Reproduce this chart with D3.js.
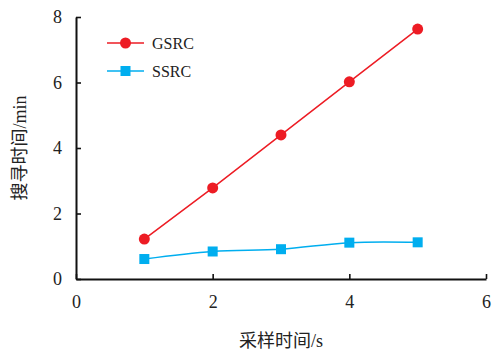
<!DOCTYPE html>
<html>
<head>
<meta charset="utf-8">
<script src="https://cdn.jsdelivr.net/npm/d3@7"></script>
<style>
  html, body { margin: 0; padding: 0; background: #fff; }
  svg { display: block; }
  text { font-family: "Liberation Serif", "Times New Roman", "Noto Sans CJK SC", serif; fill: #222; }
</style>
</head>
<body>
<svg id="chart" width="497" height="351"></svg>
<script>
// Sampling time (s) and search time (min) for the two methods
const sampleTimes = [1, 2, 3, 4, 5];
const gsrcValues = [1.22, 2.78, 4.40, 6.02, 7.63];
const ssrcValues = [0.61, 0.84, 0.91, 1.11, 1.12];
const xTicks = [0, 2, 4, 6];
const yTicks = [0, 2, 4, 6, 8];
const seriesNames = ["GSRC", "SSRC"];
const seriesColors = ["#ED1C24", "#00AEEF"];

const svg = d3.select("#chart");
const margin = { left: 76, right: 11, top: 17, bottom: 72 };
const W = 497, H = 351;

const x = d3.scaleLinear().domain([0, 6]).range([margin.left, W - margin.right]);
const y = d3.scaleLinear().domain([0, 8]).range([H - margin.bottom, margin.top]);

// Axes with inward ticks
const xAxis = svg.append("g")
  .attr("transform", `translate(0,${y(0)})`)
  .call(d3.axisBottom(x).tickValues(xTicks).tickFormat(d3.format("d"))
    .tickSizeInner(-5).tickSizeOuter(0).tickPadding(16));
const yAxis = svg.append("g")
  .attr("transform", `translate(${x(0)},0)`)
  .call(d3.axisLeft(y).tickValues(yTicks).tickFormat(d3.format("d"))
    .tickSizeInner(-5).tickSizeOuter(0).tickPadding(14));

[xAxis, yAxis].forEach(g => {
  g.select(".domain").attr("stroke", "#111").attr("stroke-width", 2);
  g.selectAll(".tick line").attr("stroke", "#111").attr("stroke-width", 1.6);
  g.selectAll(".tick text")
    .attr("font-family", "'Liberation Serif', 'Times New Roman', serif")
    .attr("font-size", 18).attr("fill", "#222");
});
xAxis.selectAll(".tick text").attr("dy", "0.71em");

// Series lines
const gLine = d3.line().x((d, i) => x(sampleTimes[i])).y(d => y(d));
const sLine = d3.line().x((d, i) => x(sampleTimes[i])).y(d => y(d)).curve(d3.curveCatmullRom.alpha(0.5));

svg.append("path").datum(gsrcValues)
  .attr("d", gLine).attr("fill", "none")
  .attr("stroke", seriesColors[0]).attr("stroke-width", 1.5);
svg.append("path").datum(ssrcValues)
  .attr("d", sLine).attr("fill", "none")
  .attr("stroke", seriesColors[1]).attr("stroke-width", 1.5);

svg.selectAll(".gpt").data(gsrcValues).enter().append("circle")
  .attr("cx", (d, i) => x(sampleTimes[i])).attr("cy", d => y(d))
  .attr("r", 5.5).attr("fill", seriesColors[0]);
svg.selectAll(".spt").data(ssrcValues).enter().append("rect")
  .attr("x", (d, i) => x(sampleTimes[i]) - 5).attr("y", d => y(d) - 5)
  .attr("width", 10).attr("height", 10).attr("fill", seriesColors[1]);

// Legend
const legend = svg.append("g");
seriesNames.forEach((name, i) => {
  const ly = 43 + i * 28;
  legend.append("line").attr("x1", 107).attr("x2", 144).attr("y1", ly).attr("y2", ly)
    .attr("stroke", seriesColors[i]).attr("stroke-width", 1.5);
  if (i === 0) {
    legend.append("circle").attr("cx", 125.5).attr("cy", ly).attr("r", 5.5).attr("fill", seriesColors[i]);
  } else {
    legend.append("rect").attr("x", 120.5).attr("y", ly - 5).attr("width", 10).attr("height", 10).attr("fill", seriesColors[i]);
  }
  legend.append("text").attr("x", 152).attr("y", ly).attr("dy", "0.35em")
    .attr("font-size", 16).text(name);
});

// Axis titles
svg.append("text")
  .attr("x", 281).attr("y", 341).attr("dy", "0.35em")
  .attr("text-anchor", "middle").attr("font-size", 18)
  .text("采样时间/s");
svg.append("text")
  .attr("transform", `translate(20,${(y(0) + y(8)) / 2}) rotate(-90)`)
  .attr("dy", "0.35em")
  .attr("text-anchor", "middle").attr("font-size", 18)
  .text("搜寻时间/min");
</script>
</body>
</html>
